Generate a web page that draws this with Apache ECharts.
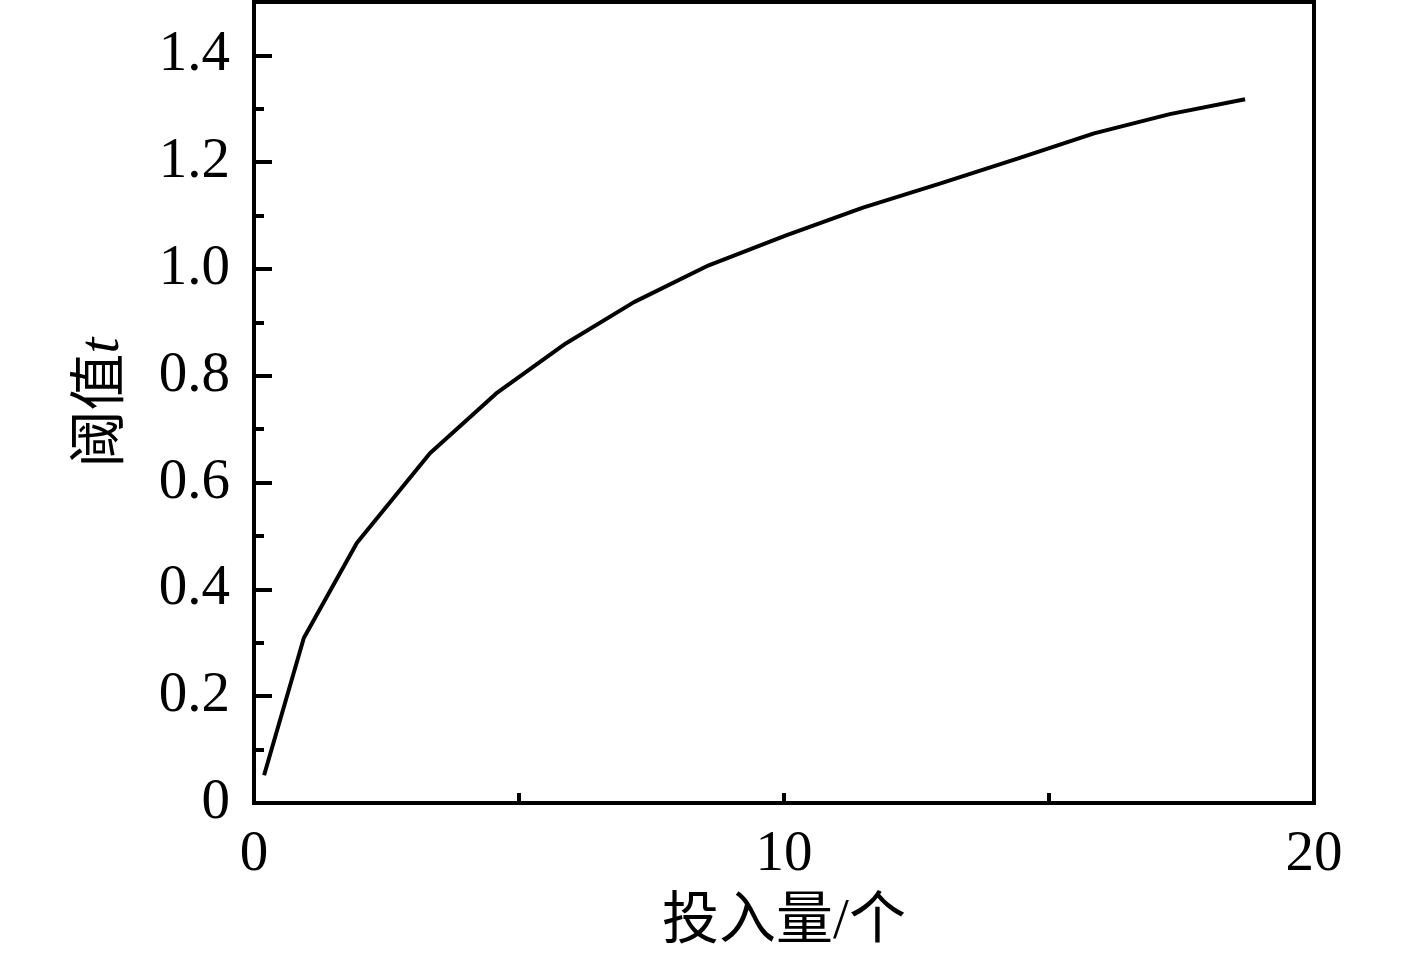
<!DOCTYPE html>
<html>
<head>
<meta charset="utf-8">
<script src="https://cdn.jsdelivr.net/npm/echarts@6/dist/echarts.min.js"></script>
<style>html,body{margin:0;padding:0;background:#fff}#c{width:1417px;height:960px}</style>
</head>
<body>
<div id="c"></div>
<script>
const xValues = [0.19, 0.94, 1.94, 3.32, 4.57, 5.89, 7.17, 8.58, 10.04, 11.49, 12.94, 14.42, 15.85, 17.28, 18.70];
const yValues = [0.052, 0.309, 0.487, 0.655, 0.767, 0.861, 0.938, 1.007, 1.063, 1.115, 1.160, 1.207, 1.254, 1.290, 1.318];
const xLabelShown = [0, 10, 20];
const xTitle = '投入量/个';
const yTitle = '阈值';
const yTitleItalic = 't';

const FONT = '"Liberation Serif", "Times New Roman", "Noto Sans CJK SC", serif';
const chart = echarts.init(document.getElementById('c'), null, {renderer: 'canvas'});
chart.setOption({
  backgroundColor: '#fff',
  animation: false,
  grid: {left: 254, right: 103, top: 2, bottom: 157, show: true, borderColor: '#000', borderWidth: 4, backgroundColor: 'transparent'},
  xAxis: {
    type: 'value', min: 0, max: 20, interval: 5,
    name: xTitle, nameLocation: 'middle', nameGap: 92,
    nameTextStyle: {fontFamily: FONT, fontSize: 57, color: '#000'},
    axisLine: {show: true, lineStyle: {color: '#000', width: 4}},
    axisTick: {show: true, inside: true, length: 10, lineStyle: {color: '#000', width: 4}},
    axisLabel: {fontFamily: FONT, fontSize: 57, color: '#000', margin: 24,
      formatter: v => xLabelShown.includes(v) ? String(v) : ''},
    splitLine: {show: false}
  },
  yAxis: {
    type: 'value', min: 0, max: 1.5, interval: 0.2,
    name: yTitle + '{i|' + yTitleItalic + '}', nameLocation: 'middle', nameGap: 122,
    nameTextStyle: {fontFamily: FONT, fontSize: 57, color: '#000',
      rich: {i: {fontFamily: FONT, fontStyle: 'italic', fontSize: 57, color: '#000'}}},
    axisLine: {show: true, lineStyle: {color: '#000', width: 4}},
    axisTick: {show: true, inside: true, length: 18, lineStyle: {color: '#000', width: 4}},
    minorTick: {show: true, splitNumber: 2, length: 10, lineStyle: {color: '#000', width: 4}},
    axisLabel: {fontFamily: FONT, fontSize: 57, color: '#000', margin: 24, showMaxLabel: false,
      formatter: v => (Math.abs(v) < 1e-9 ? '0' : v.toFixed(1))},
    splitLine: {show: false}
  },
  series: [{
    type: 'line',
    data: xValues.map((x, i) => [x, yValues[i]]),
    showSymbol: false,
    lineStyle: {color: '#000', width: 4},
    itemStyle: {color: '#000'}
  }]
});
</script>
</body>
</html>
